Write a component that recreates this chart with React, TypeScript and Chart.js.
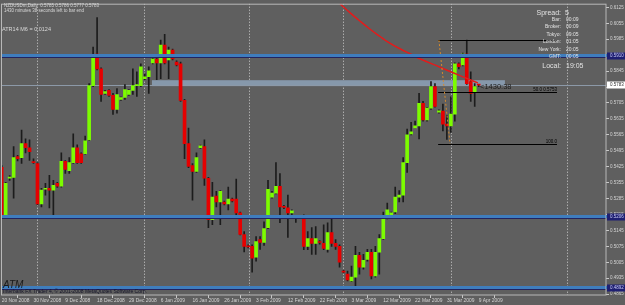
import React, { useEffect, useRef } from "react";
import { Chart, registerables } from "chart.js";
Chart.register(...registerables);

// ---- data ----
const opens = [0.5422,0.5213,0.5375,0.5378,0.5469,0.5465,0.5526,0.5508,0.5445,0.5439,0.5261,0.5326,0.5330,0.5322,0.5352,0.5339,0.5448,0.5408,0.5443,0.5508,0.5482,0.5482,0.5543,0.5781,0.5920,0.5855,0.5747,0.5760,0.5738,0.5677,0.5721,0.5729,0.5742,0.5760,0.5781,0.5781,0.5812,0.5820,0.5881,0.5898,0.5881,0.5959,0.5894,0.5937,0.5885,0.5877,0.5716,0.5526,0.5430,0.5404,0.5508,0.5513,0.5374,0.5192,0.5296,0.5270,0.5270,0.5261,0.5283,0.5283,0.5222,0.5127,0.5077,0.5075,0.5027,0.5105,0.5092,0.5157,0.5291,0.5309,0.5339,0.5250,0.5244,0.5222,0.5207,0.5205,0.5205,0.5075,0.5109,0.5088,0.5094,0.5088,0.5062,0.5135,0.5088,0.5075,0.4966,0.4953,0.4923,0.4940,0.5036,0.4984,0.5018,0.5049,0.4945,0.5049,0.5109,0.5200,0.5213,0.5226,0.5291,0.5300,0.5443,0.5569,0.5595,0.5604,0.5703,0.5630,0.5682,0.5777,0.5664,0.5669,0.5612,0.5604,0.5656,0.5877,0.5872,0.5920,0.5799,0.5755,0.5785];
const highs = [0.5430,0.5356,0.5386,0.5513,0.5475,0.5586,0.5547,0.5543,0.5460,0.5443,0.5330,0.5352,0.5387,0.5365,0.5356,0.5486,0.5452,0.5465,0.5569,0.5521,0.5486,0.5560,0.5790,0.5950,0.6080,0.5859,0.5760,0.5764,0.5747,0.5768,0.5732,0.5786,0.5764,0.5855,0.5842,0.5877,0.5833,0.5864,0.5907,0.5916,0.5981,0.6007,0.5950,0.5942,0.5890,0.5885,0.5721,0.5595,0.5439,0.5486,0.5520,0.5543,0.5378,0.5356,0.5317,0.5320,0.5274,0.5335,0.5287,0.5370,0.5226,0.5140,0.5082,0.5082,0.5118,0.5118,0.5183,0.5365,0.5317,0.5443,0.5395,0.5255,0.5300,0.5235,0.5210,0.5209,0.5213,0.5140,0.5157,0.5162,0.5100,0.5170,0.5178,0.5196,0.5105,0.5082,0.4970,0.4966,0.4988,0.5075,0.5049,0.5040,0.5062,0.5062,0.5075,0.5127,0.5226,0.5265,0.5226,0.5335,0.5320,0.5465,0.5590,0.5620,0.5625,0.5747,0.5712,0.5686,0.5799,0.5790,0.5675,0.5700,0.5650,0.5732,0.5881,0.5881,0.5924,0.5981,0.5842,0.5790,0.5786];
const lows = [0.5200,0.5205,0.5365,0.5287,0.5450,0.5439,0.5486,0.5452,0.5439,0.5257,0.5248,0.5300,0.5244,0.5200,0.5334,0.5335,0.5395,0.5395,0.5439,0.5439,0.5439,0.5480,0.5539,0.5777,0.5850,0.5712,0.5742,0.5734,0.5655,0.5660,0.5716,0.5721,0.5738,0.5742,0.5734,0.5777,0.5807,0.5747,0.5877,0.5807,0.5812,0.5877,0.5812,0.5894,0.5868,0.5712,0.5460,0.5421,0.5278,0.5400,0.5505,0.5343,0.5157,0.5170,0.5248,0.5170,0.5257,0.5235,0.5270,0.5213,0.5125,0.5050,0.5068,0.4962,0.5010,0.5062,0.5079,0.5153,0.5287,0.5305,0.5179,0.5240,0.5114,0.5200,0.5180,0.5200,0.5060,0.5060,0.5040,0.5040,0.5085,0.5060,0.5049,0.5075,0.5062,0.4984,0.4958,0.4923,0.4920,0.4888,0.4953,0.4975,0.5010,0.4932,0.4940,0.4953,0.5105,0.5196,0.5209,0.5218,0.5270,0.5270,0.5400,0.5565,0.5595,0.5547,0.5625,0.5625,0.5677,0.5686,0.5660,0.5582,0.5545,0.5575,0.5625,0.5855,0.5868,0.5786,0.5712,0.5690,0.5777];
const closes = [0.5205,0.5352,0.5378,0.5465,0.5460,0.5526,0.5508,0.5491,0.5443,0.5261,0.5322,0.5328,0.5322,0.5343,0.5339,0.5448,0.5413,0.5443,0.5508,0.5443,0.5443,0.5539,0.5781,0.5916,0.5855,0.5742,0.5755,0.5738,0.5677,0.5742,0.5729,0.5764,0.5760,0.5781,0.5783,0.5864,0.5820,0.5846,0.5898,0.5881,0.5959,0.5881,0.5937,0.5898,0.5872,0.5716,0.5526,0.5426,0.5404,0.5465,0.5517,0.5374,0.5192,0.5291,0.5270,0.5317,0.5261,0.5283,0.5275,0.5222,0.5127,0.5075,0.5073,0.5023,0.5096,0.5092,0.5153,0.5326,0.5309,0.5339,0.5248,0.5246,0.5222,0.5231,0.5203,0.5203,0.5075,0.5109,0.5088,0.5109,0.5092,0.5066,0.5135,0.5088,0.5075,0.5005,0.4962,0.4927,0.4940,0.5036,0.4984,0.5014,0.5049,0.4945,0.5049,0.5109,0.5200,0.5235,0.5222,0.5291,0.5300,0.5443,0.5565,0.5578,0.5604,0.5703,0.5630,0.5682,0.5777,0.5690,0.5670,0.5612,0.5604,0.5656,0.5877,0.5864,0.5920,0.5790,0.5747,0.5777,0.5783];

const dateLabels = ["20 Nov 2008","30 Nov 2008","9 Dec 2008","18 Dec 2008","29 Dec 2008","6 Jan 2009","16 Jan 2009","26 Jan 2009","3 Feb 2009","12 Feb 2009","22 Feb 2009","3 Mar 2009","12 Mar 2009","22 Mar 2009","31 Mar 2009","9 Apr 2009"];
const dateLabelIndex = [0,8,16,24,32,40,48,56,64,72,80,88,96,104,112,120];
const priceTicks = [0.6125,0.6055,0.5985,0.5915,0.5845,0.5775,0.5705,0.5635,0.5565,0.5495,0.5425,0.5355,0.5285,0.5215,0.5145,0.5075,0.5005,0.4935,0.4865];

const levelLines = [0.5910, 0.5206, 0.4892];
const bidPrice = 0.5783;
const bandRange = [0.5779, 0.5805];
const bandSpan = [37.8, 126.6];
const curveIdx = [85.1, 87.6, 90.1, 92.6, 95.2, 96.9, 100.2, 103.5, 105.2, 110.3, 115.3, 119.8];
const curveVal = [0.6141, 0.6102, 0.6065, 0.6030, 0.5997, 0.5976, 0.5943, 0.5915, 0.5899, 0.5862, 0.5825, 0.5793];
const fibLevels = [0.5981, 0.5753, 0.5525];
const fibTexts = ["", "50.0 0.5753", "100.0"];
const fibSpan = [109.8, 139.7];
const trendIdx = [110.0, 112.8];
const trendVal = [0.5981, 0.5525];
const separators = [8.88, 35.8, 62.2, 85.9, 113.0, 142.2];
const headerLines = ["NZDUSDm,Daily  0.5785 0.5786 0.5777 0.5783", "1430 minutes 38 seconds left to bar end"];
const atrText = "ATR14 M6 = 0.0124";
const panelLabels = ["Bar:", "Broker:", "Tokyo:", "London:", "New York:", "GMT:"];
const panelValues = ["00:09", "00:09", "09:05", "01:05", "20:05", "00:05"];
const spreadValue = "5";
const localTime = "19:05";
const timerText = "<1430:38";
const brandText = "ATM";
const copyrightText = "Interbank FX Trader 4, \u00a9 2001-2008 MetaQuotes Software Corp.";

const FONT = "'Liberation Sans', Arial, sans-serif";
const BG = "#5f5f5f";
const X_MIN = -0.176;
const X_MAX = 152.03;
const Y_MIN = 0.48612;
const Y_MAX = 0.61411;

const overlay = {
  id: "overlay",
  beforeDraw(chart: any) {
    const ctx = chart.ctx;
    ctx.save();
    ctx.fillStyle = BG;
    ctx.fillRect(0, 0, chart.width, chart.height);
    ctx.restore();
  },
  beforeDatasetsDraw(chart: any) {
    const { ctx, chartArea: a, scales } = chart;
    const x = scales.x, y = scales.y;
    ctx.save();
    ctx.beginPath();
    ctx.rect(a.left, a.top, a.right - a.left, a.bottom - a.top);
    ctx.clip();
    ctx.strokeStyle = "#cfcfcf";
    ctx.lineWidth = 1;
    ctx.setLineDash([1, 2]);
    for (const s of separators) {
      const px = Math.round(x.getPixelForValue(s)) + 0.5;
      ctx.beginPath();
      ctx.moveTo(px, a.top);
      ctx.lineTo(px, a.bottom);
      ctx.stroke();
    }
    ctx.setLineDash([]);
    const bx1 = x.getPixelForValue(bandSpan[0]);
    const bx2 = x.getPixelForValue(bandSpan[1]);
    const by1 = y.getPixelForValue(bandRange[1]);
    const by2 = y.getPixelForValue(bandRange[0]);
    ctx.fillStyle = "#8698ab";
    ctx.fillRect(bx1, by1, bx2 - bx1, by2 - by1);
    const bp = Math.round(y.getPixelForValue(bidPrice)) + 0.5;
    ctx.strokeStyle = "#8c99a8";
    ctx.beginPath();
    ctx.moveTo(a.left, bp);
    ctx.lineTo(a.right, bp);
    ctx.stroke();
    ctx.restore();
  },
  afterDatasetsDraw(chart: any) {
    const { ctx, chartArea: a, scales } = chart;
    const x = scales.x, y = scales.y;
    ctx.save();
    ctx.beginPath();
    ctx.rect(a.left, a.top, a.right - a.left, a.bottom - a.top);
    ctx.clip();
    const fx1 = x.getPixelForValue(fibSpan[0]);
    const fx2 = x.getPixelForValue(fibSpan[1]);
    ctx.strokeStyle = "#000000";
    ctx.lineWidth = 1;
    fibLevels.forEach((lv, k) => {
      const py = Math.round(y.getPixelForValue(lv)) + 0.5;
      ctx.beginPath();
      ctx.moveTo(fx1, py);
      ctx.lineTo(fx2, py);
      ctx.stroke();
      if (fibTexts[k]) {
        ctx.fillStyle = "#000000";
        ctx.font = `4.5px ${FONT}`;
        ctx.textAlign = "right";
        ctx.textBaseline = "bottom";
        ctx.fillText(fibTexts[k], fx2, py - 0.5);
      }
    });
    ctx.strokeStyle = "#d58a2c";
    ctx.setLineDash([2, 2]);
    ctx.beginPath();
    ctx.moveTo(x.getPixelForValue(trendIdx[0]), y.getPixelForValue(trendVal[0]));
    ctx.lineTo(x.getPixelForValue(trendIdx[1]), y.getPixelForValue(trendVal[1]));
    ctx.stroke();
    ctx.setLineDash([]);
    for (const lv of levelLines) {
      const py = Math.round(y.getPixelForValue(lv));
      ctx.fillStyle = "#3f7dbd";
      ctx.fillRect(a.left, py - 2, a.right - a.left, 3);
      ctx.fillStyle = "#23235e";
      ctx.fillRect(a.left, py + 1, a.right - a.left, 1);
    }
    ctx.restore();
  },
  afterDraw(chart: any) {
    const { ctx, chartArea: a, scales } = chart;
    const y = scales.y;
    ctx.save();
    ctx.strokeStyle = "#b8b8b8";
    ctx.lineWidth = 1;
    ctx.strokeRect(a.left + 0.5, a.top + 0.5, a.right - a.left - 0.5, a.bottom - a.top - 0.5);
    ctx.font = `4.5px ${FONT}`;
    ctx.textAlign = "left";
    ctx.textBaseline = "middle";
    for (const lv of levelLines) {
      const py = Math.round(y.getPixelForValue(lv));
      ctx.fillStyle = "#3f7dbd";
      ctx.fillRect(a.right, py - 2, 2, 3);
      ctx.fillStyle = "#1e1f72";
      ctx.fillRect(a.right + 1, py - 3.5, 19, 7);
      ctx.fillStyle = "#c9cbf2";
      ctx.fillText(lv.toFixed(4), a.right + 4, py);
    }
    const bpy = Math.round(y.getPixelForValue(bidPrice));
    ctx.fillStyle = "#ffffff";
    ctx.fillRect(a.right + 1, bpy - 3.5, 19, 7);
    ctx.fillStyle = "#303030";
    ctx.fillText(bidPrice.toFixed(4), a.right + 4, bpy);

    ctx.fillStyle = "#d8d8d8";
    ctx.font = `4.5px ${FONT}`;
    ctx.fillText(headerLines[0], 4, 5.8);
    ctx.fillText(headerLines[1], 4, 10.8);
    ctx.font = `5.5px ${FONT}`;
    ctx.fillText(atrText, 2, 29);

    ctx.fillStyle = "#e2e2e2";
    ctx.textAlign = "right";
    ctx.font = `7px ${FONT}`;
    ctx.fillText("Spread:", 561, 12.8);
    ctx.fillText("Local:", 561, 65.7);
    ctx.textAlign = "left";
    ctx.fillText(spreadValue, 565, 12.8);
    ctx.fillText(localTime, 566, 65.7);
    ctx.font = `5px ${FONT}`;
    panelLabels.forEach((lb, k) => {
      const ry = 19.7 + k * 7.4;
      ctx.textAlign = "right";
      ctx.fillText(lb, 561, ry);
      ctx.textAlign = "left";
      ctx.fillText(panelValues[k], 566, ry);
    });

    ctx.fillStyle = "#1e1e1e";
    ctx.font = `7.5px ${FONT}`;
    ctx.fillText(timerText, 480, 87);

    ctx.font = `italic 10px ${FONT}`;
    ctx.textBaseline = "alphabetic";
    ctx.fillStyle = "#1a1a1a";
    ctx.fillText(brandText, 3, 288);
    ctx.font = `5px ${FONT}`;
    ctx.textBaseline = "middle";
    ctx.fillStyle = "#141428";
    ctx.fillText(copyrightText, 3, 291.5);
    ctx.restore();
  },
};

export default function App() {
  const ref = useRef<HTMLCanvasElement>(null);
  useEffect(() => {
    document.body.style.margin = "0";
    const idx = opens.map((_, i) => i);
    const wickData = idx.map((i) => ({ x: i, y: [lows[i], highs[i]] }));
    const bodyData = idx.map((i) => ({ x: i, y: [opens[i], closes[i]] }));
    const bodyColors = idx.map((i) => (closes[i] >= opens[i] ? "#7cfc00" : "#e60000"));
    const curveData = curveIdx.map((v, k) => ({ x: v, y: curveVal[k] }));

    const chart = new Chart(ref.current as HTMLCanvasElement, {
      type: "bar",
      data: {
        datasets: [
          {
            type: "line",
            data: curveData as any,
            borderColor: "#e41b1b",
            borderWidth: 1.5,
            pointRadius: 0,
            tension: 0.4,
            order: 0,
          } as any,
          {
            data: bodyData as any,
            backgroundColor: bodyColors,
            barThickness: 3,
            minBarLength: 1,
            grouped: false,
            order: 1,
          } as any,
          {
            data: wickData as any,
            backgroundColor: "#1c1c1c",
            barThickness: 1,
            minBarLength: 1,
            grouped: false,
            order: 2,
          } as any,
        ],
      },
      options: {
        responsive: false,
        devicePixelRatio: 1,
        animation: false,
        events: [],
        layout: { padding: { left: 1, top: 1, right: 0, bottom: 0 } },
        plugins: { legend: { display: false }, tooltip: { enabled: false } },
        scales: {
          x: {
            type: "linear",
            min: X_MIN,
            max: X_MAX,
            offset: false,
            afterFit: (s: any) => {
              s.height = 10;
            },
            afterBuildTicks: (s: any) => {
              s.ticks = dateLabelIndex.map((v) => ({ value: v }));
            },
            ticks: {
              autoSkip: false,
              maxRotation: 0,
              minRotation: 0,
              align: "start",
              padding: 0,
              color: "#d4d4d4",
              font: { family: FONT, size: 4.9 },
              callback: (_v: any, i: number) => dateLabels[i],
            },
            grid: { drawOnChartArea: false, tickLength: 3, color: "#c8c8c8" },
            border: { display: false },
          },
          y: {
            type: "linear",
            position: "right",
            min: Y_MIN,
            max: Y_MAX,
            afterFit: (s: any) => {
              s.width = 19;
            },
            afterBuildTicks: (s: any) => {
              s.ticks = priceTicks.map((v) => ({ value: v }));
            },
            ticks: {
              autoSkip: false,
              padding: 1,
              color: "#d4d4d4",
              font: { family: FONT, size: 4.5 },
              callback: (v: any) => Number(v).toFixed(4),
            },
            grid: { drawOnChartArea: false, tickLength: 3, color: "#c8c8c8" },
            border: { display: false },
          },
        },
      } as any,
      plugins: [overlay],
    });
    return () => chart.destroy();
  }, []);
  return (
    <div style={{ width: 625, height: 305 }}>
      <canvas ref={ref} width={625} height={305} style={{ display: "block" }} />
    </div>
  );
}
